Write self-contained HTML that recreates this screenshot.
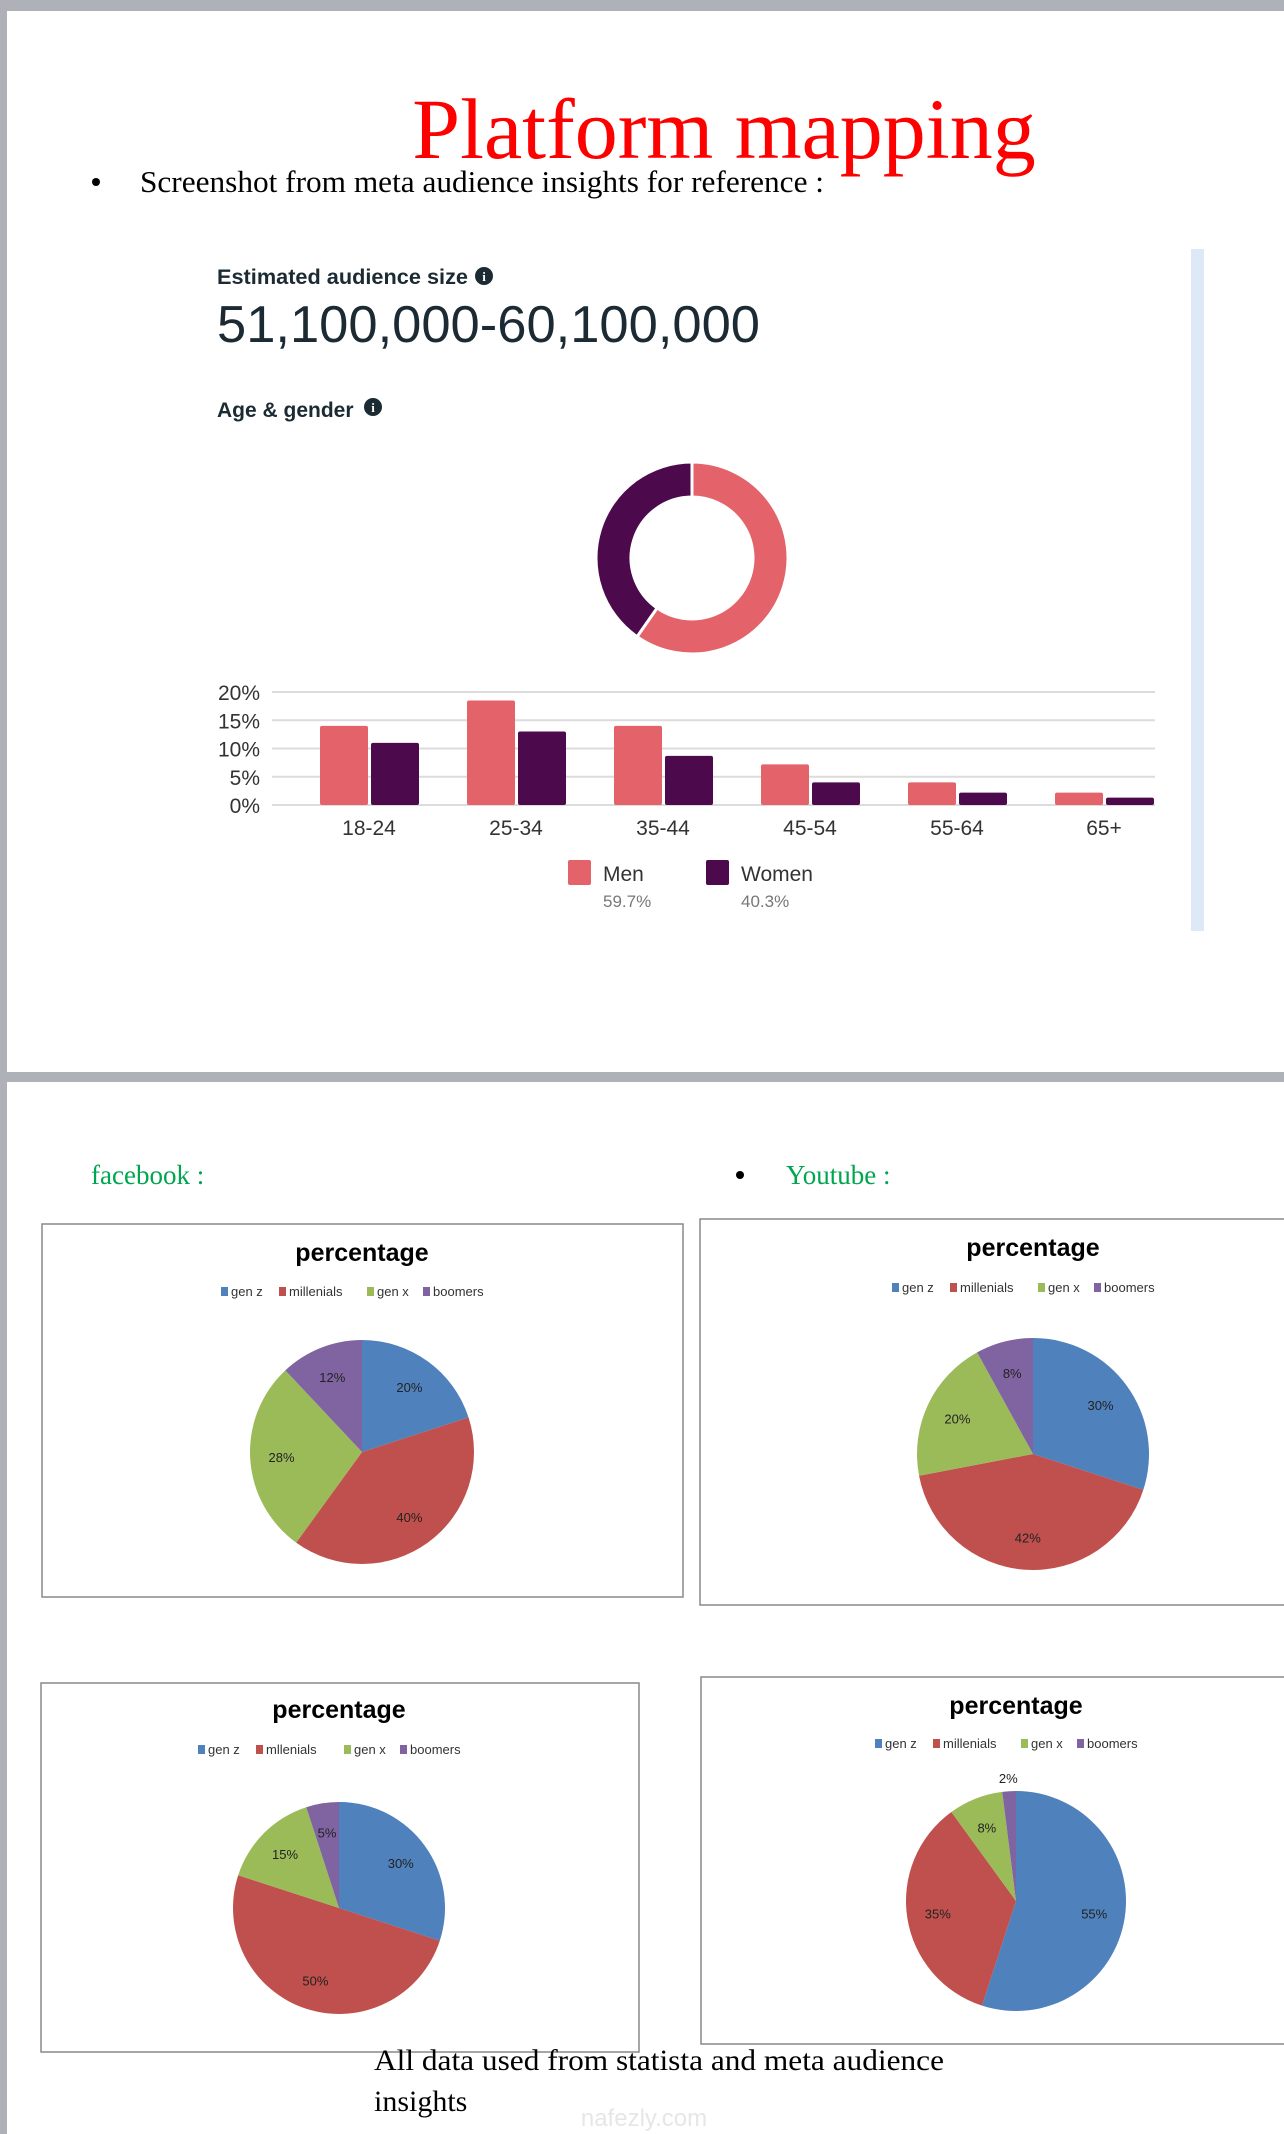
<!DOCTYPE html>
<html><head><meta charset="utf-8"><style>
html,body{margin:0;padding:0;background:#fff;}
svg{display:block;}
</style></head><body>
<svg id="page" width="1284" height="2134" viewBox="0 0 1284 2134" xmlns="http://www.w3.org/2000/svg" font-family="Liberation Sans, sans-serif">
<rect x="0" y="0" width="1284" height="11" fill="#aeb2b8"/>
<rect x="0" y="0" width="7" height="2134" fill="#aeb2b8"/>
<rect x="0" y="1072" width="1284" height="10" fill="#aeb2b8"/>
<text x="724" y="158" text-anchor="middle" font-family="Liberation Serif, serif" font-size="86" fill="#ff0000">Platform mapping</text>
<circle cx="96" cy="182" r="4" fill="#000"/>
<text x="140" y="192" font-family="Liberation Serif, serif" font-size="31" textLength="684" lengthAdjust="spacingAndGlyphs" fill="#000">Screenshot from meta audience insights for reference :</text>
<rect x="1191" y="249" width="13" height="682" fill="#dde9f7"/>
<text x="217" y="284" font-size="21" font-weight="bold" fill="#1c2b33" textLength="251" lengthAdjust="spacingAndGlyphs">Estimated audience size</text>
<circle cx="484" cy="276" r="9" fill="#1c2b33"/>
<text x="484" y="281" text-anchor="middle" font-size="13" font-weight="bold" fill="#fff" font-family="Liberation Serif, serif">i</text>
<text x="217" y="342" font-size="52" fill="#1c2b33" textLength="543" lengthAdjust="spacingAndGlyphs">51,100,000-60,100,000</text>
<text x="217" y="417" font-size="21" font-weight="bold" fill="#1c2b33">Age &amp; gender</text>
<circle cx="373" cy="407" r="9" fill="#1c2b33"/>
<text x="373" y="412" text-anchor="middle" font-size="13" font-weight="bold" fill="#fff" font-family="Liberation Serif, serif">i</text>
<g id="donut"></g>
<g id="bars"></g>
<text x="91" y="1184" font-family="Liberation Serif, serif" font-size="27" fill="#00a550">facebook :</text>
<circle cx="740" cy="1175" r="4" fill="#000"/>
<text x="786" y="1184" font-family="Liberation Serif, serif" font-size="27" fill="#00a550">Youtube :</text>
<g id="pies"></g>
<text x="374" y="2070" font-family="Liberation Serif, serif" font-size="30" fill="#000" textLength="570" lengthAdjust="spacingAndGlyphs">All data used from statista and meta audience</text>
<text x="374" y="2111" font-family="Liberation Serif, serif" font-size="30" fill="#000">insights</text>
<text x="644" y="2126" text-anchor="middle" font-size="24" fill="#e6e6e6">nafezly.com</text>
</svg>
<script>
const ageCats = ["18-24","25-34","35-44","45-54","55-64","65+"];
const menVals = [14,18.5,14,7.2,4,2.2];
const womenVals = [11,13,8.7,4,2.2,1.3];
const yTicks = [0,5,10,15,20];
const yTickLabels = ["0%","5%","10%","15%","20%"];
const genderShares = [59.7,40.3];
const genderLabels = ["Men","Women"];
const pieLegend = ["gen z","millenials","gen x","boomers"];
const pieLegend3 = ["gen z","mllenials","gen x","boomers"];
const fbVals = [20,40,28,12];
const ytVals = [30,42,20,8];
const chart3Vals = [30,50,15,5];
const chart4Vals = [55,35,8,2];

const NS="http://www.w3.org/2000/svg";
function mk(tag,attrs,parent,text){const e=document.createElementNS(NS,tag);for(const k in attrs)e.setAttribute(k,attrs[k]);if(text!==undefined)e.textContent=text;parent.appendChild(e);return e;}
const menC="#e4626a", womenC="#4c0a4c";

(function(){
  const g=document.getElementById('donut');
  const cx=692,cy=558,R=96,r=61;
  let a0=0;const total=genderShares.reduce((a,b)=>a+b,0);
  const cols=[menC,womenC];
  genderShares.forEach((v,i)=>{
    const a1=a0+v/total*2*Math.PI;
    const p=(a,rad)=>[cx+rad*Math.sin(a),cy-rad*Math.cos(a)];
    const [x0,y0]=p(a0,R),[x1,y1]=p(a1,R),[x2,y2]=p(a1,r),[x3,y3]=p(a0,r);
    const lg=(a1-a0)>Math.PI?1:0;
    const s=mk('path',{d:`M${x0},${y0}A${R},${R} 0 ${lg} 1 ${x1},${y1}L${x2},${y2}A${r},${r} 0 ${lg} 0 ${x3},${y3}Z`,fill:cols[i],stroke:'#fff','stroke-width':3},g);
    
    
    a0=a1;
  });
})();

(function(){
  const g=document.getElementById('bars');
  const y0=805,y20=692,xL=272,xR=1155;
  const y=v=>y0-(v/20)*(y0-y20);
  const step=147, first=369;
  const cx=i=>first+i*step;
  yTicks.forEach((t,i)=>{
    const l=mk('line',{x1:xL,x2:xR,y1:y(t),y2:y(t),stroke:'#dcdcdc','stroke-width':2},g);
    
    
    const tx=mk('text',{x:260,y:y(t)+8,'text-anchor':'end','font-size':21,fill:'#333'},g,yTickLabels[i]);
    
    
  });
  const bw=48;
  ageCats.forEach((c,i)=>{
    const m=mk('rect',{x:cx(i)-bw-1,y:y(menVals[i]),width:bw,height:y0-y(menVals[i]),fill:menC,rx:2},g);
    
    
    const w=mk('rect',{x:cx(i)+2,y:y(womenVals[i]),width:bw,height:y0-y(womenVals[i]),fill:womenC,rx:2},g);
    
    
    const t=mk('text',{x:cx(i),y:835,'text-anchor':'middle','font-size':21,fill:'#333'},g,c);
    
    
  });
  const lx=[568,706];
  genderLabels.forEach((n,i)=>{
    const s=mk('rect',{x:lx[i],y:860,width:23,height:25,fill:i?womenC:menC,rx:2},g);
    
    
    const t=mk('text',{x:lx[i]+35,y:881,'font-size':21,fill:'#333'},g,n);
    
    
    const p=mk('text',{x:lx[i]+35,y:907,'font-size':17,fill:'#777'},g,genderShares[i]+'%');
    
    
  });
})();

const pieCols=["#4f81bd","#c0504d","#9bbb59","#8064a2"];
function pie(cfg){
  const root=document.getElementById('pies');
  const g=mk('g',{},root);
  
  
  const b=mk('rect',{x:cfg.bx,y:cfg.by,width:cfg.bw,height:cfg.bh,fill:'#fff',stroke:'#888','stroke-width':1.5},g);
  
  
  const t=mk('text',{x:cfg.cx,y:cfg.ty,'text-anchor':'middle','font-size':25,'font-weight':'bold',fill:'#000'},g,'percentage');
  
  
  const widths=[58,88,56,80];
  const tot=widths.reduce((a,c)=>a+c,0);
  let lx=cfg.cx-tot/2;
  cfg.legend.forEach((n,i)=>{
    const s=mk('rect',{x:lx,y:cfg.ly-9,width:7,height:9,fill:pieCols[i]},g);
    
    
    const tx=mk('text',{x:lx+10,y:cfg.ly,'font-size':13,fill:'#333'},g,n);
    
    
    lx+=widths[i];
  });
  const total=cfg.vals.reduce((a,c)=>a+c,0);
  let a0=0;
  cfg.vals.forEach((v,i)=>{
    const a1=a0+v/total*2*Math.PI;
    const R=cfg.r,cx=cfg.cx,cy=cfg.cy;
    const p=a=>[cx+R*Math.sin(a),cy-R*Math.cos(a)];
    const [x0,y0]=p(a0),[x1,y1]=p(a1);
    const lg=(a1-a0)>Math.PI?1:0;
    const s=mk('path',{d:`M${cx},${cy}L${x0},${y0}A${R},${R} 0 ${lg} 1 ${x1},${y1}Z`,fill:pieCols[i]},g);
    
    
    const am=(a0+a1)/2;
    let rr=v<4?R*1.12:R*0.72;
    const lxp=cx+rr*Math.sin(am), lyp=cy-rr*Math.cos(am)+5;
    const l=mk('text',{x:lxp,y:lyp,'text-anchor':'middle','font-size':13,fill:'#222'},g,v+'%');
    
    
    a0=a1;
  });
}
pie({name:'facebook-pie-chart',bx:42,by:1224,bw:641,bh:373,cx:362,ty:1261,ly:1296,cy:1452,r:112,vals:fbVals,legend:pieLegend});
pie({name:'youtube-pie-chart',bx:700,by:1219,bw:600,bh:386,cx:1033,ty:1256,ly:1292,cy:1454,r:116,vals:ytVals,legend:pieLegend});
pie({name:'pie-chart-3',bx:41,by:1683,bw:598,bh:369,cx:339,ty:1718,ly:1754,cy:1908,r:106,vals:chart3Vals,legend:pieLegend3});
pie({name:'pie-chart-4',bx:701,by:1677,bw:600,bh:367,cx:1016,ty:1714,ly:1748,cy:1901,r:110,vals:chart4Vals,legend:pieLegend});
</script>
</body></html>
